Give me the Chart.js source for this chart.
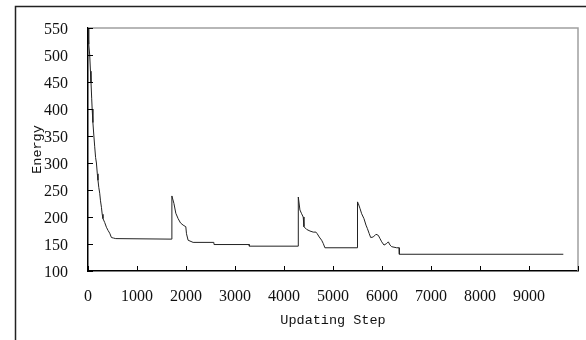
<!DOCTYPE html>
<html>
<head>
<meta charset="utf-8">
<script src="https://cdn.jsdelivr.net/npm/chart.js@4"></script>
<style>
  body { margin: 0; background: #fff; overflow: hidden; }
  #wrap { width: 586px; height: 340px; position: relative; }
</style>
</head>
<body>
<div id="wrap"><canvas id="chart" width="586" height="340"></canvas></div>
<script>
// values
var steps = [0, 15, 35, 50, 61, 75, 85, 100, 120, 137, 155, 172, 190, 204, 220, 239, 255, 274, 290, 306, 340, 376, 410, 443, 478, 520, 566, 1710,
  1712, 1754, 1792, 1839, 1888, 1941, 1996, 2010, 2043, 2145, 2568, 2572, 3289, 3293, 4288,
  4292, 4325, 4360, 4392, 4407, 4462, 4530, 4597, 4652, 4678, 4719, 4768, 4801, 4835, 5495,
  5500, 5516, 5550, 5585, 5632, 5673, 5700, 5740, 5769, 5822, 5877, 5925, 5959, 5994, 6041, 6096, 6129, 6164, 6198, 6300, 6350, 6354, 9700];
var energy = [548, 520, 500, 470, 450, 420, 400, 375, 350, 330, 310, 300, 280, 268, 255, 244, 230, 218, 205, 197, 190, 181, 175, 170, 162, 161, 160, 159,
  239, 225, 207, 197, 189, 185, 182, 169, 157, 153, 153, 149, 149, 146, 146,
  237, 213, 206, 200, 182, 177, 174, 172, 172, 169, 163, 157, 151, 143, 143,
  228, 225, 216, 206, 197, 185, 179, 169, 162, 163, 168, 166, 160, 154, 148, 151, 154, 148, 145, 143, 143, 131, 131];
var yTicks = [100, 150, 200, 250, 300, 350, 400, 450, 500, 550];
var xTicks = [0, 1000, 2000, 3000, 4000, 5000, 6000, 7000, 8000, 9000, 10000];

var punto = [];
for (var i = 0; i < steps.length; i++) {
    punto.push({x: steps[i], y: energy[i]});
}

// outer frame, gray top/right of plot, and tick marks drawn inward
var marco = {
    id: 'marco',
    beforeDraw: function(chart) {
        var ctx = chart.ctx;
        ctx.save();
        ctx.strokeStyle = '#222';
        ctx.lineWidth = 1.5;
        ctx.beginPath();
        ctx.moveTo(15.5, 400);
        ctx.lineTo(15.5, 6.5);
        ctx.lineTo(600, 6.5);
        ctx.stroke();
        ctx.restore();
    },
    afterDraw: function(chart) {
        var ctx = chart.ctx, a = chart.chartArea;
        var sx = chart.scales.x, sy = chart.scales.y;
        ctx.save();
        ctx.strokeStyle = '#a0a0a0';
        ctx.lineWidth = 1.5;
        ctx.beginPath();
        ctx.moveTo(a.left, a.top);
        ctx.lineTo(a.right, a.top);
        ctx.lineTo(a.right, a.bottom);
        ctx.stroke();
        ctx.strokeStyle = '#000';
        ctx.lineWidth = 1;
        ctx.beginPath();
        for (var i = 0; i < yTicks.length; i++) {
            var py = Math.round(sy.getPixelForValue(yTicks[i])) + 0.5;
            ctx.moveTo(a.left, py);
            ctx.lineTo(a.left + 5, py);
        }
        for (var j = 0; j < xTicks.length; j++) {
            var px = Math.round(sx.getPixelForValue(xTicks[j])) + 0.5;
            ctx.moveTo(px, a.bottom);
            ctx.lineTo(px, a.bottom - 5);
        }
        ctx.stroke();
        ctx.restore();
    }
};

var canvas = document.getElementById('chart').getContext('2d');
window.grafico = new Chart(canvas, {
    type: 'line',
    data: {
        datasets: [{
            label: 'Energy',
            data: punto,
            borderColor: '#222',
            borderWidth: 1,
            pointRadius: 0,
            tension: 0,
            fill: false
        }]
    },
    plugins: [marco],
    options: {
        responsive: false,
        animation: false,
        events: [],
        layout: { padding: { top: 28, right: 8, left: 0, bottom: 0 } },
        plugins: { legend: { display: false }, tooltip: { enabled: false } },
        scales: {
            x: {
                type: 'linear',
                min: 0,
                max: 10000,
                afterFit: function(s) { s.height = 69; },
                afterBuildTicks: function(s) { s.ticks = xTicks.map(function(v) { return {value: v}; }); },
                grid: { display: false },
                border: { color: '#000', width: 1.5 },
                ticks: {
                    padding: 8,
                    color: '#111',
                    maxRotation: 0,
                    autoSkip: false,
                    font: { family: 'Liberation Serif', size: 16 },
                    callback: function(v) { return v === 10000 ? '' : String(v); }
                },
                title: {
                    display: true,
                    text: 'Updating Step',
                    color: '#111',
                    padding: { top: 0, bottom: 11 },
                    font: { family: 'Liberation Mono', size: 13.5 }
                }
            },
            y: {
                min: 100,
                max: 550,
                afterFit: function(s) { s.width = 88; },
                afterBuildTicks: function(s) { s.ticks = yTicks.map(function(v) { return {value: v}; }); },
                grid: { display: false },
                border: { color: '#000', width: 1.5 },
                ticks: {
                    padding: 12,
                    labelOffset: 2,
                    color: '#111',
                    font: { family: 'Liberation Serif', size: 16 }
                },
                title: {
                    display: true,
                    text: 'Energy',
                    color: '#111',
                    padding: { top: 29, bottom: 0 },
                    font: { family: 'Liberation Mono', size: 13.5 }
                }
            }
        }
    }
});
</script>
</body>
</html>
